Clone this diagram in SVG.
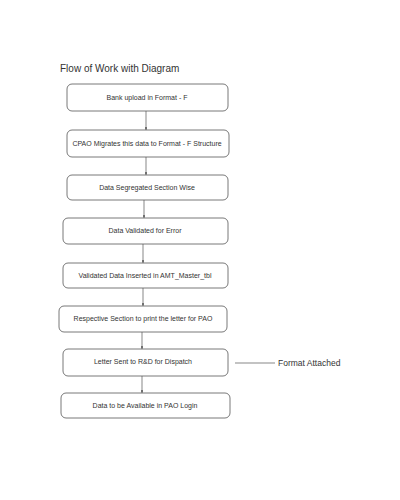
<svg xmlns="http://www.w3.org/2000/svg" width="400" height="500" viewBox="0 0 400 500">
<defs>
<style>
.box{fill:#fff;stroke:#555;stroke-width:0.8}
.t{font-family:"Liberation Sans",Arial,sans-serif;font-size:7px;fill:#333;text-anchor:middle}
.title{font-family:"Liberation Sans",Arial,sans-serif;font-size:10px;fill:#333}
.lbl{font-family:"Liberation Sans",Arial,sans-serif;font-size:8.5px;fill:#333}
.c{stroke:#555;stroke-width:0.7;fill:none}
</style>
<marker id="ah" viewBox="0 0 6 6" refX="6" refY="3" markerWidth="4" markerHeight="4" orient="auto">
<path d="M0,0 L6,3 L0,6 z" fill="#555"/>
</marker>
</defs>
<rect width="400" height="500" fill="#fff"/>
<text class="title" x="60" y="72">Flow of Work with Diagram</text>
<g id="connectors">
<line class="c" x1="146" y1="111" x2="146" y2="130" marker-end="url(#ah)"/>
<line class="c" x1="146" y1="157" x2="146" y2="175" marker-end="url(#ah)"/>
<line class="c" x1="144" y1="200" x2="144" y2="218" marker-end="url(#ah)"/>
<line class="c" x1="143" y1="244" x2="143" y2="263" marker-end="url(#ah)"/>
<line class="c" x1="143" y1="288" x2="143" y2="306" marker-end="url(#ah)"/>
<line class="c" x1="142" y1="332" x2="142" y2="349" marker-end="url(#ah)"/>
<line class="c" x1="142" y1="376" x2="142" y2="393" marker-end="url(#ah)"/>
<line class="c" x1="235" y1="363" x2="275" y2="363"/>
</g>
<g id="n1"><rect class="box" x="67" y="84" width="161" height="27" rx="5"/><text class="t" x="147" y="100">Bank upload in Format - F</text></g>
<g id="n2"><rect class="box" x="67" y="130" width="162" height="27" rx="5"/><text class="t" x="147" y="146">CPAO Migrates this data to Format - F Structure</text></g>
<g id="n3"><rect class="box" x="67" y="175" width="161" height="25" rx="5"/><text class="t" x="147" y="190">Data Segregated Section Wise</text></g>
<g id="n4"><rect class="box" x="63" y="218" width="165" height="26" rx="5"/><text class="t" x="145" y="233">Data Validated for Error</text></g>
<g id="n5"><rect class="box" x="63" y="263" width="165" height="25" rx="5"/><text class="t" x="145" y="278">Validated Data Inserted in AMT_Master_tbl</text></g>
<g id="n6"><rect class="box" x="59" y="306" width="168" height="26" rx="5"/><text class="t" x="143" y="321">Respective Section to print the letter for PAO</text></g>
<g id="n7"><rect class="box" x="63" y="349" width="165" height="27" rx="5"/><text class="t" x="143" y="364">Letter Sent to R&amp;D for Dispatch</text></g>
<g id="n8"><rect class="box" x="61" y="393" width="169" height="25" rx="5"/><text class="t" x="145" y="408">Data to be Available in PAO Login</text></g>
<g id="lbl"><text class="lbl" x="278" y="366">Format Attached</text></g>
</svg>
